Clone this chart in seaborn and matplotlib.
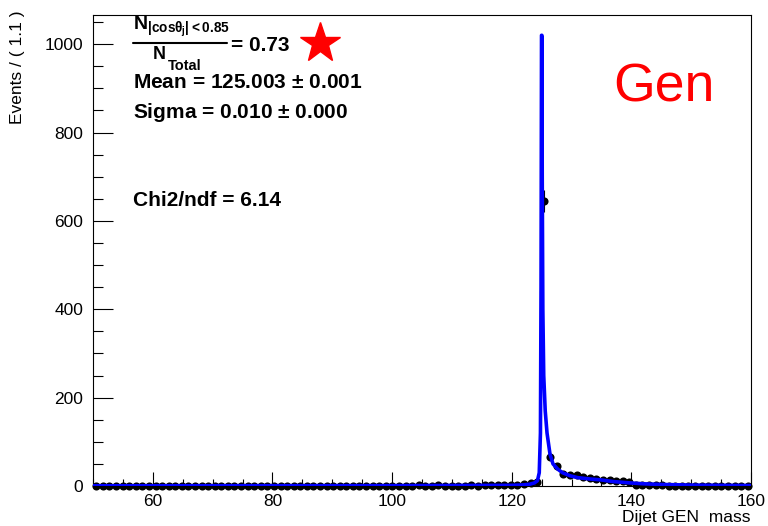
import numpy as np
import pandas as pd
import matplotlib
matplotlib.use("Agg")
import matplotlib.pyplot as plt
from matplotlib.lines import Line2D
import seaborn as sns

# ---------------- data ----------------
bin_lo, bin_hi, n_bins = 50.0, 160.0, 100
counts = [0]*45 + [
    1, 0, 1, 1, 2, 1, 1, 2, 1, 1,                 # i=45..54
    1, 1, 2, 1, 2, 2, 2, 3, 2, 3, 4, 6, 10,       # i=55..67
    645, 66, 46, 27, 24, 26, 20, 17, 16, 14,      # i=68..77
    13, 12, 11, 10, 3, 3, 2, 2, 2, 1,             # i=78..87
    1, 1, 1, 1, 1, 1, 1, 1, 1, 1,                 # i=88..97
    1, 1]                                         # i=98..99

curve_x = [50, 100, 120, 122, 123, 123.8, 124.3, 124.6, 124.8, 124.9, 124.98,
           125.04, 125.1, 125.2, 125.35, 125.6, 125.9, 126.4, 126.9, 127.7,
           128.5, 129.8, 131, 133, 134.8, 137, 139.8, 142, 145, 150, 155, 160]
curve_y = [0.5, 0.8, 1.5, 2.5, 4, 7, 12, 30, 120, 450, 1020,
           1020, 700, 400, 250, 170, 120, 72, 50, 38,
           30, 23, 19, 16, 14, 10, 7, 5, 3.5, 2, 1.5, 1]

x_ticks = [60, 80, 100, 120, 140, 160]
y_ticks = [0, 200, 400, 600, 800, 1000]

# ---------------- style ----------------
sns.set_style("ticks")
plt.rcParams['font.family'] = ['Liberation Sans', 'DejaVu Sans']
plt.rcParams['text.color'] = 'black'
plt.rcParams['xtick.color'] = 'black'
plt.rcParams['ytick.color'] = 'black'
plt.rcParams['xtick.labelcolor'] = 'black'
plt.rcParams['ytick.labelcolor'] = 'black'
plt.rcParams['mathtext.fontset'] = 'custom'
plt.rcParams['mathtext.rm'] = 'Liberation Sans:bold'
plt.rcParams['mathtext.it'] = 'Liberation Sans:bold'
plt.rcParams['mathtext.bf'] = 'Liberation Sans:bold'

W, H = 768, 526
fig = plt.figure(figsize=(W/100, H/100), dpi=100)
ax = fig.add_axes([93/W, 1-486/H, (751-93)/W, (486-15)/H])

width = (bin_hi - bin_lo) / n_bins
centers = bin_lo + width*(np.arange(n_bins) + 0.5)
df = pd.DataFrame({"x": centers, "y": counts})
df["err"] = np.sqrt(df["y"])
cdf = pd.DataFrame({"x": curve_x, "y": curve_y})

ax.vlines(df["x"], df["y"]-df["err"], df["y"]+df["err"], color="black", lw=0.8, zorder=2)
sns.scatterplot(data=df, x="x", y="y", ax=ax, color="black", s=34, edgecolor="black",
                linewidth=0, zorder=3, clip_on=False, legend=False)
sns.lineplot(data=cdf, x="x", y="y", ax=ax, color="#0000ff", lw=2.6, sort=False,
             zorder=4, estimator=None)

ax.set_xlim(bin_lo, bin_hi)
ax.set_ylim(0, 1066)
ax.set_xticks(x_ticks)
ax.set_yticks(y_ticks)
ax.set_xticks(np.arange(50, 161, 5), minor=True)
ax.set_yticks(np.arange(0, 1066, 50), minor=True)
ax.tick_params(axis="x", which="major", direction="in", length=10, width=0.8, labelsize=12.5, pad=6)
ax.tick_params(axis="x", which="minor", direction="in", length=5, width=0.8)
ax.tick_params(axis="y", which="major", direction="in", length=14.5, width=0.8, labelsize=12.5, pad=7)
ax.tick_params(axis="y", which="minor", direction="in", length=7, width=0.8)
for s in ax.spines.values():
    s.set_linewidth(0.8)
    s.set_color("black")
ax.set_xlabel("")
ax.set_ylabel("")

def fx(px): return px / W
def fy(py): return 1 - py / H

fig.text(fx(751), fy(522), "Dijet GEN  mass", ha="right", va="baseline", fontsize=12.5)
fig.text(fx(18), fy(10), "Events / ( 1.1 )", ha="center", va="top", rotation=90, fontsize=12.5)

# fraction annotation
fig.text(fx(133), fy(30), r"$\mathrm{N}_{\mathrm{|cos}\theta_{j}\mathrm{|<0.85}}$", fontsize=14,
         ha="left", va="baseline")
fig.add_artist(Line2D([fx(133), fx(227)], [fy(43), fy(43)], color="black", lw=1.5))
fig.text(fx(153), fy(59), "N", fontsize=13, fontweight="bold", ha="left", va="baseline")
fig.text(fx(168), fy(69.5), "Total", fontsize=10.5, fontweight="bold", ha="left", va="baseline")
fig.text(fx(231), fy(51), "= 0.73", fontsize=15, fontweight="bold", ha="left", va="baseline")
fig.add_artist(Line2D([fx(320)], [fy(43)], marker="*", markersize=30, color="red",
                      markeredgecolor="red", linestyle="none"))

fig.text(fx(133), fy(88), "Mean = 125.003 $\\pm$ 0.001", fontsize=15, fontweight="bold",
         ha="left", va="baseline")
fig.text(fx(133), fy(118), "Sigma = 0.010 $\\pm$ 0.000", fontsize=15, fontweight="bold",
         ha="left", va="baseline")
fig.text(fx(133), fy(206), "Chi2/ndf = 6.14", fontsize=15, fontweight="bold",
         ha="left", va="baseline")
fig.text(fx(613), fy(101), "Gen", fontsize=38.5, color="red", ha="left", va="baseline")

fig.savefig("out.png", dpi=100)
